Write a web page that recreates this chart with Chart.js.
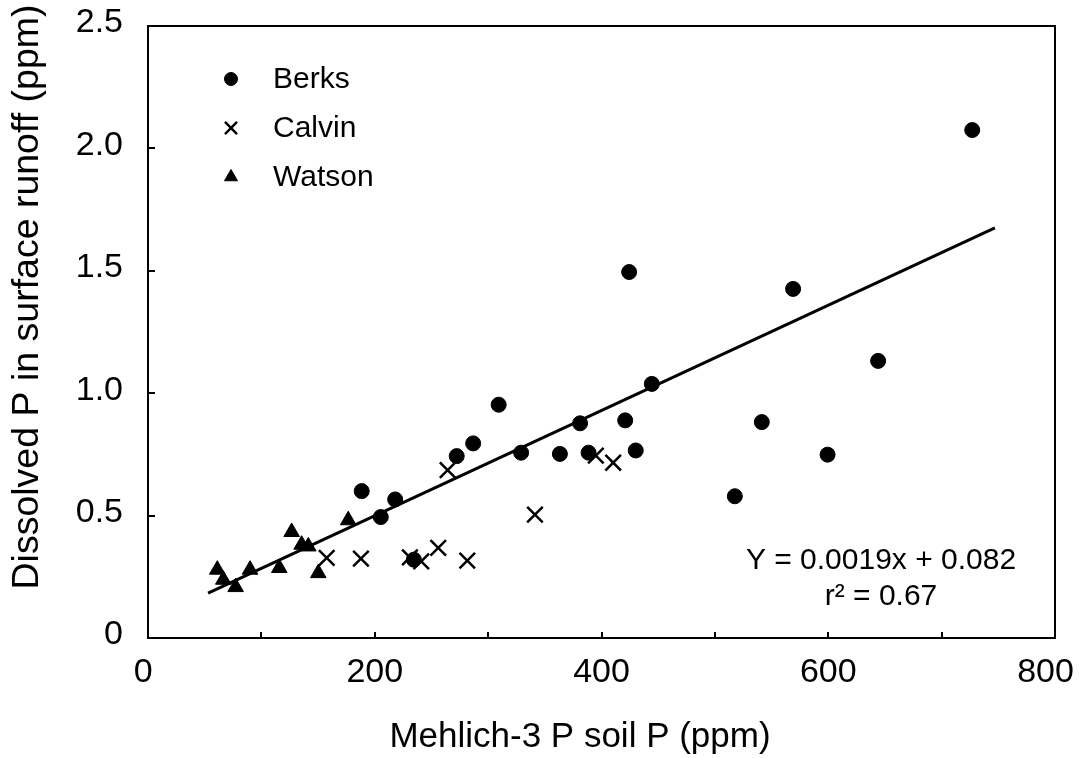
<!DOCTYPE html>
<html>
<head>
<meta charset="utf-8">
<script src="https://cdn.jsdelivr.net/npm/chart.js@4/dist/chart.umd.min.js"></script>
<style>
html,body{margin:0;padding:0;background:#fff;}
#wrap{width:1079px;height:758px;}
</style>
</head>
<body>
<div id="wrap"><canvas id="c" width="1079" height="758"></canvas></div>
<script>
// ---- data ----
const seriesNames = ['Berks', 'Calvin', 'Watson'];
const berksX = [188.5, 205.3, 218, 234.5, 272.3, 286.8, 309.3, 329.1, 363.3, 381.1, 388.6, 420.9, 424.4, 430.2, 444.4, 517.6, 541.4, 569, 599.4, 644, 727];
const berksY = [0.600, 0.494, 0.566, 0.320, 0.743, 0.795, 0.953, 0.757, 0.752, 0.877, 0.757, 0.889, 1.495, 0.766, 1.038, 0.579, 0.882, 1.426, 0.749, 1.132, 2.075];
const calvinX = [157.6, 187.8, 231, 241, 256, 264.3, 281.6, 341.3, 395, 410.3];
const calvinY = [0.327, 0.324, 0.329, 0.313, 0.368, 0.686, 0.316, 0.504, 0.745, 0.716];
const watsonX = [61.1, 66.4, 77.3, 90, 115.8, 126.7, 135.5, 141.4, 150.2, 176.6];
const watsonY = [0.279, 0.238, 0.208, 0.279, 0.286, 0.433, 0.381, 0.374, 0.265, 0.481];
const fitX = [53, 747];
const fitY = [0.183, 1.675];
const xTicks = [0, 100, 200, 300, 400, 500, 600, 700, 800];
const xTickLabels = ['0', '', '200', '', '400', '', '600', '', '800'];
const yTicks = [0, 0.5, 1.0, 1.5, 2.0, 2.5];
const yTickLabels = ['0', '0.5', '1.0', '1.5', '2.0', '2.5'];
const xTitle = 'Mehlich-3 P soil P (ppm)';
const yTitle = 'Dissolved P in surface runoff (ppm)';
const eqLines = ['Y = 0.0019x + 0.082', 'r\u00B2 = 0.67'];

const FONT = "'Liberation Sans', Arial, Helvetica, sans-serif";
const toPts = (xs, ys) => xs.map((x, i) => ({x: x, y: ys[i]}));

const styles = [
  {pointStyle: 'circle', radius: 7.5, borderWidth: 1, legendRadius: 6.5},
  {pointStyle: 'crossRot', radius: 11, borderWidth: 2.5, legendRadius: 8.5},
  {pointStyle: 'triangle', radius: 9, borderWidth: 1, legendRadius: 7.5}
];

const decor = {
  id: 'decor',
  afterDraw(chart) {
    const ctx = chart.ctx;
    const a = chart.chartArea;
    const xs = chart.scales.x, ys = chart.scales.y;
    ctx.save();
    ctx.strokeStyle = '#000';
    ctx.fillStyle = '#000';
    // frame
    ctx.lineWidth = 2;
    ctx.strokeRect(a.left, a.top, a.right - a.left, a.bottom - a.top);
    // inward ticks
    ctx.lineWidth = 2;
    ctx.beginPath();
    xTicks.forEach(v => {
      if (v === xTicks[0] || v === xTicks[xTicks.length - 1]) return;
      const px = Math.round(xs.getPixelForValue(v));
      ctx.moveTo(px, a.bottom); ctx.lineTo(px, a.bottom - 6);
    });
    yTicks.forEach(v => {
      if (v === yTicks[0] || v === yTicks[yTicks.length - 1]) return;
      const py = Math.round(ys.getPixelForValue(v));
      ctx.moveTo(a.left, py); ctx.lineTo(a.left + 7, py);
    });
    ctx.stroke();
    // axis titles
    ctx.textAlign = 'center';
    ctx.textBaseline = 'middle';
    ctx.font = '35px ' + FONT;
    ctx.fillText(xTitle, 580, 737);
    ctx.save();
    ctx.translate(28, 297);
    ctx.rotate(-Math.PI / 2);
    ctx.font = '37.5px ' + FONT;
    ctx.fillText(yTitle, 0, 0);
    ctx.restore();
    // legend
    const lx = a.left + 83, ly0 = a.top + 53, dy = 49;
    seriesNames.forEach((name, i) => {
      const st = styles[i];
      const y = ly0 + i * dy;
      ctx.lineWidth = st.borderWidth;
      Chart.helpers.drawPoint(ctx, {pointStyle: st.pointStyle, radius: st.legendRadius, borderWidth: st.borderWidth, rotation: 0}, lx, y);
      ctx.font = '30px ' + FONT;
      ctx.textAlign = 'left';
      ctx.textBaseline = 'middle';
      ctx.fillText(name, lx + 42, y + 1);
    });
    // equation
    ctx.font = '30px ' + FONT;
    ctx.textAlign = 'center';
    ctx.textBaseline = 'middle';
    ctx.fillText(eqLines[0], 881, 561);
    ctx.fillText(eqLines[1], 881, 597);
    ctx.restore();
  }
};

// small per-label nudges (trailing spaces shift the centred label left, as in the reference)
const xLabelPad = {0: ' ', 800: '  '};

new Chart(document.getElementById('c').getContext('2d'), {
  type: 'scatter',
  data: {
    datasets: [
      {label: seriesNames[0], data: toPts(berksX, berksY), pointStyle: styles[0].pointStyle, pointRadius: styles[0].radius,
       pointBorderWidth: styles[0].borderWidth, backgroundColor: '#000', borderColor: '#000'},
      {label: seriesNames[1], data: toPts(calvinX, calvinY), pointStyle: styles[1].pointStyle, pointRadius: styles[1].radius,
       pointBorderWidth: styles[1].borderWidth, backgroundColor: '#000', borderColor: '#000'},
      {label: seriesNames[2], data: toPts(watsonX, watsonY), pointStyle: styles[2].pointStyle, pointRadius: styles[2].radius,
       pointBorderWidth: styles[2].borderWidth, backgroundColor: '#000', borderColor: '#000'},
      {label: 'fit', type: 'line', data: toPts(fitX, fitY), showLine: true, pointRadius: 0, borderColor: '#000',
       borderWidth: 3, fill: false, tension: 0}
    ]
  },
  options: {
    responsive: false,
    animation: false,
    devicePixelRatio: 1,
    layout: {padding: {top: 26, right: 24, left: 0, bottom: 0}},
    plugins: {legend: {display: false}, tooltip: {enabled: false}},
    scales: {
      x: {
        type: 'linear', min: 0, max: 800,
        afterBuildTicks: s => { s.ticks = xTicks.map(v => ({value: v})); },
        ticks: {autoSkip: false, maxRotation: 0, padding: 14, color: '#000',
          font: {family: FONT, size: 34},
          callback: (v) => (xTickLabels[xTicks.indexOf(v)] ?? '') + (xLabelPad[v] || '')},
        grid: {display: false, drawTicks: false},
        border: {display: false},
        afterFit: s => { s.height = 120; s.paddingLeft = 0; s.paddingRight = 0; }
      },
      y: {
        type: 'linear', min: 0, max: 2.5,
        afterBuildTicks: s => { s.ticks = yTicks.map(v => ({value: v})); },
        ticks: {autoSkip: false, padding: 25, labelOffset: -3, color: '#000',
          font: {family: FONT, size: 34},
          callback: (v) => yTickLabels[yTicks.indexOf(v)] ?? ''},
        grid: {display: false, drawTicks: false},
        border: {display: false},
        afterFit: s => { s.width = 148; s.paddingTop = 0; s.paddingBottom = 0; }
      }
    }
  },
  plugins: [decor]
});
</script>
</body>
</html>
